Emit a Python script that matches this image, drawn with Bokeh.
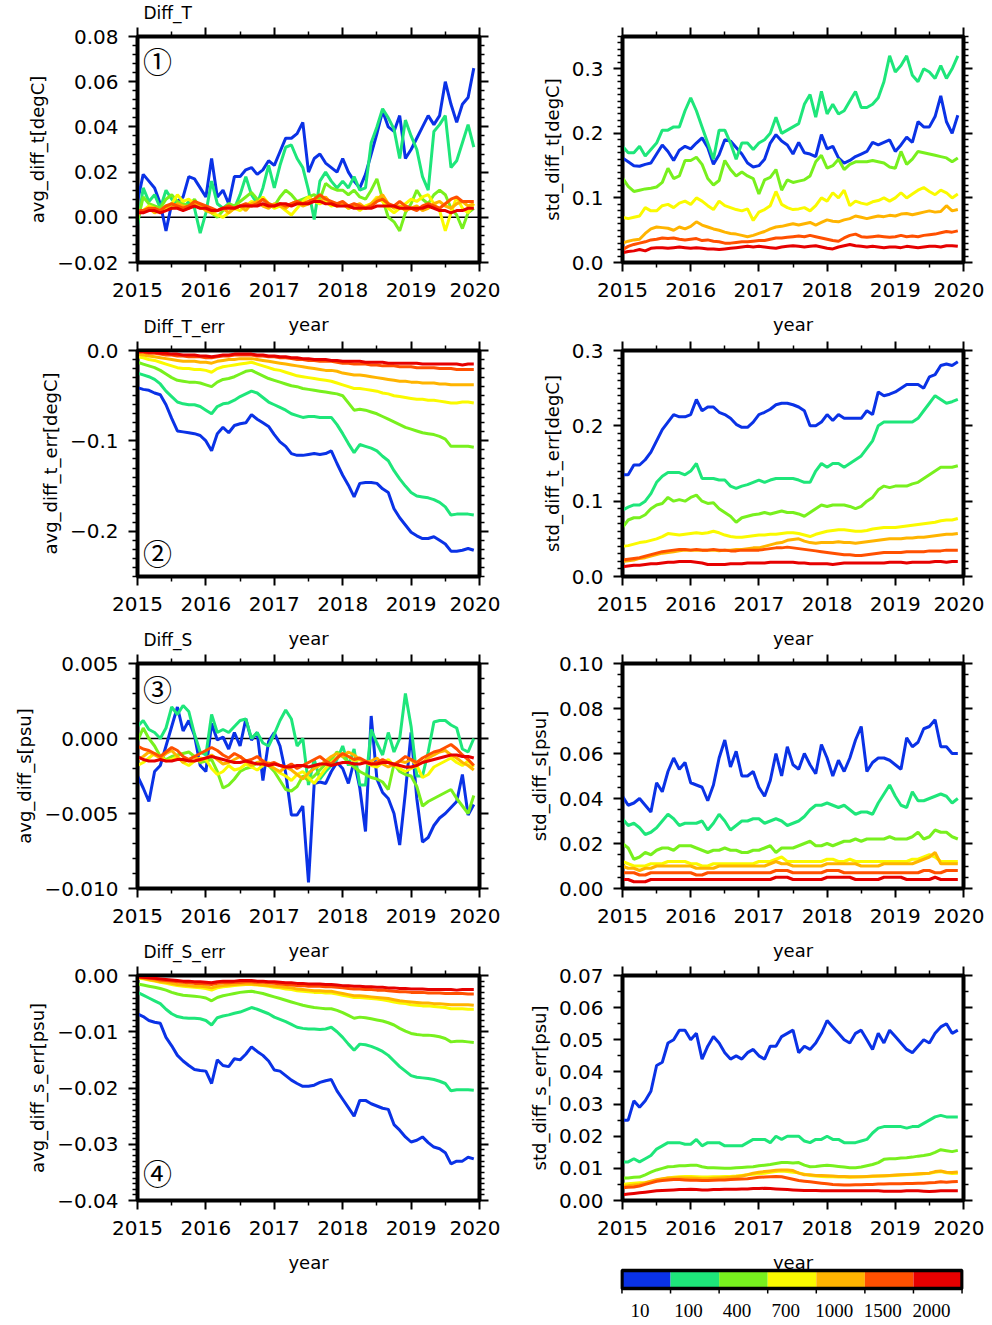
from bokeh.plotting import figure
from bokeh.layouts import column, row
from bokeh.models import (Range1d, FixedTicker, LinearAxis, CustomJSTickFormatter, Label, Span,
                          Title, CustomLabelingPolicy)
from bokeh.core.properties import value
from bokeh.embed import file_html
from bokeh.resources import INLINE

# ---------------- categories / legend ----------------
depth_labels = ["10", "100", "400", "700", "1000", "1500", "2000"]
line_colors = ["#0a32e6", "#1ee67a", "#78f01e", "#fafa00", "#ffb400", "#ff5000", "#e60000"]
months = [2015 + m / 12.0 for m in range(60)]
year_ticks = [2015, 2016, 2017, 2018, 2019, 2020]
half_year_ticks = [2015.5, 2016.5, 2017.5, 2018.5, 2019.5]

# ---------------- panel 1: avg_diff_t ----------------
avg_t_10 = [0.007,0.019,0.016,0.013,0.006,-0.006,0.006,0.007,0.009,0.018,
            0.017,0.013,0.009,0.026,0.009,0.012,0.006,0.018,0.018,0.021,
            0.022,0.019,0.021,0.025,0.023,0.029,0.035,0.035,0.037,0.042,
            0.020,0.026,0.028,0.024,0.022,0.020,0.026,0.020,0.016,0.013,
            0.019,0.028,0.037,0.047,0.040,0.038,0.045,0.026,0.030,0.035,
            0.040,0.045,0.041,0.045,0.060,0.050,0.042,0.050,0.053,0.066]
avg_t_100 = [-0.004,0.013,0.007,0.010,0.004,0.012,0.008,0.006,0.004,0.007,
             0.004,-0.007,0.002,0.016,0.006,0.004,0.006,0.004,0.010,0.018,
             0.010,0.006,0.013,0.023,0.013,0.023,0.031,0.032,0.026,0.022,
             0.012,-0.001,0.016,0.020,0.016,0.013,0.016,0.013,0.018,0.012,
             0.013,0.033,0.040,0.048,0.044,0.039,0.026,0.043,0.036,0.030,
             0.018,0.012,0.038,0.041,0.045,0.022,0.025,0.033,0.041,0.031]
avg_t_400 = [-0.002,0.009,0.006,0.005,0.004,0.008,0.010,0.007,0.006,0.005,
             0.008,0.004,0.004,0.002,0.000,0.003,0.006,0.005,0.007,0.009,
             0.011,0.008,0.008,0.006,0.005,0.009,0.012,0.010,0.007,0.008,
             0.009,0.010,0.008,0.015,0.013,0.012,0.012,0.010,0.012,0.009,
             0.008,0.012,0.017,0.008,0.000,-0.002,-0.006,0.002,0.006,0.012,
             0.008,0.006,0.010,0.012,0.010,0.004,0.001,-0.005,0.002,0.004]
avg_t_700 = [0.002,0.003,0.005,0.004,0.003,0.004,0.006,0.010,0.007,0.008,
             0.006,0.005,0.004,0.002,0.001,0.000,0.002,0.004,0.003,0.005,
             0.007,0.006,0.009,0.006,0.004,0.005,0.003,0.001,0.004,0.007,
             0.009,0.007,0.006,0.007,0.005,0.006,0.006,0.004,0.005,0.003,
             0.005,0.006,0.009,0.007,0.004,0.002,0.004,0.006,0.008,0.007,
             0.009,0.010,0.006,0.003,-0.006,0.002,0.009,0.004,0.002,0.006]
avg_t_1000 = [0.001,0.003,0.004,0.002,0.003,0.005,0.004,0.006,0.005,0.004,
              0.006,0.005,0.003,0.002,0.003,0.004,0.002,0.004,0.005,0.003,
              0.006,0.007,0.005,0.004,0.006,0.005,0.004,0.006,0.007,0.005,
              0.006,0.008,0.007,0.009,0.006,0.005,0.006,0.004,0.005,0.006,
              0.004,0.006,0.008,0.010,0.006,0.004,0.005,0.003,0.004,0.005,
              0.003,0.004,0.006,0.007,0.005,0.004,0.006,0.007,0.005,0.006]
avg_t_1500 = [0.003,0.003,0.004,0.004,0.003,0.005,0.006,0.005,0.004,0.005,
              0.007,0.006,0.005,0.004,0.003,0.004,0.005,0.004,0.005,0.006,
              0.005,0.006,0.008,0.006,0.005,0.006,0.005,0.006,0.007,0.006,
              0.007,0.008,0.010,0.008,0.007,0.006,0.007,0.005,0.006,0.005,
              0.004,0.005,0.007,0.008,0.006,0.005,0.007,0.005,0.004,0.003,
              0.005,0.006,0.005,0.004,0.006,0.008,0.009,0.007,0.007,0.007]
avg_t_2000 = [0.002,0.002,0.003,0.003,0.002,0.003,0.004,0.004,0.003,0.004,
              0.005,0.004,0.004,0.003,0.003,0.004,0.004,0.004,0.005,0.005,
              0.005,0.005,0.006,0.005,0.005,0.006,0.006,0.005,0.006,0.006,
              0.006,0.007,0.007,0.006,0.006,0.005,0.005,0.005,0.004,0.004,
              0.004,0.004,0.005,0.005,0.005,0.005,0.004,0.004,0.004,0.004,
              0.004,0.005,0.004,0.003,0.003,0.002,0.003,0.003,0.004,0.004]

# ---------------- panel 2: avg_diff_t_err ----------------
avg_te_10 = [-0.041,-0.043,-0.044,-0.047,-0.049,-0.060,-0.075,-0.089,-0.090,-0.091,
             -0.092,-0.094,-0.100,-0.111,-0.092,-0.085,-0.091,-0.083,-0.081,-0.080,
             -0.071,-0.076,-0.080,-0.084,-0.093,-0.101,-0.106,-0.114,-0.116,-0.116,
             -0.115,-0.114,-0.115,-0.114,-0.111,-0.125,-0.138,-0.149,-0.162,-0.147,
             -0.146,-0.146,-0.147,-0.153,-0.157,-0.175,-0.185,-0.193,-0.201,-0.205,
             -0.208,-0.208,-0.206,-0.210,-0.214,-0.222,-0.222,-0.221,-0.219,-0.221]
avg_te_100 = [-0.025,-0.027,-0.029,-0.032,-0.037,-0.045,-0.051,-0.057,-0.059,-0.060,
              -0.060,-0.062,-0.066,-0.070,-0.062,-0.059,-0.058,-0.055,-0.051,-0.048,
              -0.045,-0.047,-0.052,-0.057,-0.060,-0.063,-0.066,-0.070,-0.072,-0.074,
              -0.073,-0.073,-0.074,-0.074,-0.074,-0.082,-0.092,-0.103,-0.113,-0.104,
              -0.106,-0.108,-0.111,-0.117,-0.122,-0.133,-0.142,-0.150,-0.157,-0.161,
              -0.162,-0.163,-0.165,-0.168,-0.173,-0.182,-0.181,-0.181,-0.181,-0.182]
avg_te_400 = [-0.013,-0.015,-0.017,-0.019,-0.022,-0.026,-0.030,-0.033,-0.034,-0.035,
              -0.035,-0.036,-0.038,-0.040,-0.035,-0.032,-0.031,-0.029,-0.026,-0.023,
              -0.022,-0.025,-0.028,-0.031,-0.033,-0.035,-0.037,-0.039,-0.040,-0.042,
              -0.043,-0.044,-0.045,-0.046,-0.047,-0.048,-0.050,-0.058,-0.066,-0.065,
              -0.066,-0.068,-0.070,-0.073,-0.076,-0.079,-0.082,-0.085,-0.087,-0.089,
              -0.091,-0.092,-0.093,-0.095,-0.098,-0.106,-0.106,-0.106,-0.106,-0.107]
avg_te_700 = [-0.007,-0.008,-0.010,-0.011,-0.013,-0.015,-0.017,-0.019,-0.020,-0.020,
              -0.021,-0.021,-0.022,-0.024,-0.020,-0.018,-0.017,-0.016,-0.015,-0.014,
              -0.013,-0.015,-0.017,-0.019,-0.021,-0.022,-0.024,-0.026,-0.028,-0.029,
              -0.030,-0.031,-0.032,-0.033,-0.034,-0.036,-0.038,-0.040,-0.042,-0.042,
              -0.043,-0.044,-0.045,-0.047,-0.048,-0.050,-0.051,-0.052,-0.053,-0.054,
              -0.054,-0.055,-0.055,-0.056,-0.057,-0.058,-0.058,-0.057,-0.057,-0.058]
avg_te_1000 = [-0.004,-0.005,-0.006,-0.007,-0.008,-0.009,-0.010,-0.011,-0.012,-0.012,
               -0.012,-0.013,-0.013,-0.014,-0.012,-0.011,-0.010,-0.010,-0.009,-0.009,
               -0.009,-0.010,-0.011,-0.012,-0.013,-0.014,-0.015,-0.016,-0.017,-0.018,
               -0.019,-0.020,-0.021,-0.022,-0.022,-0.023,-0.025,-0.026,-0.027,-0.027,
               -0.028,-0.029,-0.030,-0.031,-0.032,-0.033,-0.034,-0.034,-0.035,-0.035,
               -0.036,-0.036,-0.036,-0.037,-0.037,-0.038,-0.038,-0.038,-0.038,-0.038]
avg_te_1500 = [-0.002,-0.002,-0.003,-0.003,-0.004,-0.005,-0.005,-0.006,-0.006,-0.007,
               -0.007,-0.007,-0.008,-0.008,-0.007,-0.006,-0.006,-0.005,-0.005,-0.005,
               -0.005,-0.006,-0.006,-0.007,-0.007,-0.008,-0.008,-0.009,-0.010,-0.010,
               -0.011,-0.011,-0.012,-0.012,-0.012,-0.013,-0.014,-0.014,-0.015,-0.015,
               -0.015,-0.016,-0.016,-0.017,-0.017,-0.017,-0.018,-0.018,-0.018,-0.019,
               -0.019,-0.019,-0.019,-0.020,-0.020,-0.020,-0.021,-0.021,-0.021,-0.021]
avg_te_2000 = [-0.001,-0.001,-0.002,-0.002,-0.003,-0.003,-0.004,-0.004,-0.005,-0.005,
               -0.005,-0.006,-0.006,-0.007,-0.006,-0.005,-0.005,-0.004,-0.004,-0.004,
               -0.004,-0.005,-0.005,-0.006,-0.006,-0.007,-0.007,-0.008,-0.008,-0.009,
               -0.009,-0.010,-0.010,-0.010,-0.011,-0.011,-0.012,-0.012,-0.012,-0.012,
               -0.013,-0.013,-0.013,-0.013,-0.014,-0.014,-0.014,-0.014,-0.014,-0.014,
               -0.015,-0.015,-0.015,-0.015,-0.015,-0.015,-0.015,-0.016,-0.015,-0.015]

# ---------------- panel 3: avg_diff_s ----------------
avg_s_10 = [-0.0025,-0.0033,-0.0042,-0.0022,-0.0018,-0.0005,0.0008,0.0021,0.0005,0.0012,
            0.0002,-0.0018,-0.0022,0.0010,-0.0001,0.0001,-0.0007,0.0004,-0.0005,0.0013,
            -0.0001,0.0004,-0.0028,-0.0002,0.0004,-0.0005,-0.0023,-0.0051,-0.0051,-0.0045,
            -0.0096,-0.0030,-0.0029,-0.0030,-0.0022,-0.0016,-0.0020,-0.0030,-0.0015,-0.0033,
            -0.0062,0.0015,-0.0027,-0.0036,-0.0040,-0.0050,-0.0071,-0.0036,0.0004,-0.0040,
            -0.0069,-0.0066,-0.0058,-0.0053,-0.0050,-0.0046,-0.0042,-0.0024,-0.0051,-0.0044]
avg_s_100 = [0.0008,0.0012,0.0006,0.0004,0.0000,0.0007,0.0021,0.0016,0.0022,0.0018,
             0.0003,-0.0009,-0.0011,0.0016,0.0004,0.0006,0.0004,0.0008,0.0012,0.0013,
             0.0000,0.0004,-0.0003,-0.0005,0.0003,0.0012,0.0019,0.0013,-0.0005,0.0000,
             -0.0031,-0.0014,-0.0027,-0.0022,-0.0018,-0.0014,-0.0005,-0.0018,-0.0007,-0.0031,
             -0.0031,0.0006,-0.0003,-0.0011,0.0004,-0.0009,0.0000,0.0030,0.0008,-0.0025,
             -0.0025,-0.0009,0.0011,0.0012,0.0012,0.0009,0.0007,-0.0007,-0.0009,0.0000]
avg_s_400 = [-0.0002,0.0007,0.0000,-0.0005,-0.0012,-0.0014,-0.0012,-0.0011,-0.0010,-0.0009,
             -0.0012,-0.0016,-0.0015,-0.0014,-0.0022,-0.0033,-0.0031,-0.0027,-0.0022,-0.0020,
             -0.0019,-0.0016,-0.0017,-0.0018,-0.0022,-0.0028,-0.0034,-0.0035,-0.0032,-0.0025,
             -0.0028,-0.0025,-0.0021,-0.0017,-0.0014,-0.0009,-0.0012,-0.0016,-0.0019,-0.0022,
             -0.0024,-0.0026,-0.0027,-0.0029,-0.0034,-0.0017,-0.0022,-0.0024,-0.0025,-0.0032,
             -0.0045,-0.0042,-0.0040,-0.0038,-0.0036,-0.0034,-0.0040,-0.0045,-0.0050,-0.0038]
avg_s_700 = [-0.0018,-0.0016,-0.0013,-0.0010,-0.0012,-0.0015,-0.0014,-0.0012,-0.0016,-0.0018,
             -0.0015,-0.0013,-0.0014,-0.0020,-0.0024,-0.0022,-0.0018,-0.0021,-0.0020,-0.0017,
             -0.0019,-0.0021,-0.0018,-0.0016,-0.0020,-0.0023,-0.0025,-0.0028,-0.0024,-0.0022,
             -0.0026,-0.0030,-0.0025,-0.0020,-0.0016,-0.0013,-0.0010,-0.0012,-0.0015,-0.0014,
             -0.0016,-0.0018,-0.0019,-0.0016,-0.0014,-0.0018,-0.0020,-0.0022,-0.0020,-0.0018,
             -0.0026,-0.0024,-0.0019,-0.0017,-0.0015,-0.0013,-0.0016,-0.0018,-0.0015,-0.0019]
avg_s_1000 = [-0.0014,-0.0012,-0.0009,-0.0011,-0.0013,-0.0010,-0.0008,-0.0012,-0.0016,-0.0014,
              -0.0012,-0.0015,-0.0013,-0.0011,-0.0014,-0.0017,-0.0016,-0.0014,-0.0012,-0.0015,
              -0.0018,-0.0016,-0.0015,-0.0018,-0.0020,-0.0022,-0.0019,-0.0021,-0.0024,-0.0027,
              -0.0023,-0.0020,-0.0018,-0.0015,-0.0012,-0.0010,-0.0012,-0.0009,-0.0011,-0.0014,
              -0.0016,-0.0015,-0.0013,-0.0017,-0.0019,-0.0017,-0.0015,-0.0016,-0.0014,-0.0018,
              -0.0016,-0.0013,-0.0011,-0.0009,-0.0008,-0.0011,-0.0013,-0.0016,-0.0018,-0.0021]
avg_s_1500 = [-0.0005,-0.0007,-0.0008,-0.0010,-0.0012,-0.0009,-0.0006,-0.0008,-0.0012,-0.0014,
              -0.0012,-0.0010,-0.0008,-0.0006,-0.0008,-0.0011,-0.0013,-0.0010,-0.0012,-0.0015,
              -0.0014,-0.0012,-0.0015,-0.0017,-0.0016,-0.0018,-0.0019,-0.0017,-0.0020,-0.0018,
              -0.0016,-0.0014,-0.0012,-0.0015,-0.0017,-0.0013,-0.0010,-0.0012,-0.0014,-0.0013,
              -0.0015,-0.0017,-0.0016,-0.0014,-0.0016,-0.0018,-0.0015,-0.0012,-0.0014,-0.0016,
              -0.0013,-0.0011,-0.0009,-0.0008,-0.0006,-0.0004,-0.0007,-0.0011,-0.0014,-0.0018]
avg_s_2000 = [-0.0012,-0.0014,-0.0015,-0.0015,-0.0014,-0.0015,-0.0015,-0.0014,-0.0014,-0.0015,
              -0.0015,-0.0014,-0.0013,-0.0012,-0.0013,-0.0014,-0.0015,-0.0016,-0.0016,-0.0015,
              -0.0016,-0.0017,-0.0017,-0.0018,-0.0017,-0.0018,-0.0019,-0.0019,-0.0018,-0.0018,
              -0.0019,-0.0018,-0.0017,-0.0017,-0.0018,-0.0017,-0.0016,-0.0016,-0.0017,-0.0017,
              -0.0016,-0.0017,-0.0017,-0.0016,-0.0016,-0.0017,-0.0018,-0.0019,-0.0019,-0.0018,
              -0.0016,-0.0015,-0.0014,-0.0013,-0.0012,-0.0011,-0.0011,-0.0012,-0.0012,-0.0013]

# ---------------- panel 4: avg_diff_s_err ----------------
avg_se_10 = [-0.0068,-0.0073,-0.0080,-0.0083,-0.0085,-0.0110,-0.0125,-0.0142,-0.0152,-0.0160,
             -0.0167,-0.0169,-0.0170,-0.0192,-0.0150,-0.0160,-0.0162,-0.0148,-0.0150,-0.0140,
             -0.0127,-0.0135,-0.0142,-0.0152,-0.0168,-0.0170,-0.0178,-0.0186,-0.0192,-0.0197,
             -0.0197,-0.0195,-0.0190,-0.0187,-0.0185,-0.0205,-0.0220,-0.0235,-0.0250,-0.0222,
             -0.0222,-0.0228,-0.0232,-0.0236,-0.0238,-0.0265,-0.0275,-0.0287,-0.0296,-0.0293,
             -0.0287,-0.0297,-0.0305,-0.0308,-0.0315,-0.0335,-0.0330,-0.0330,-0.0323,-0.0326]
avg_se_100 = [-0.0030,-0.0035,-0.0040,-0.0045,-0.0050,-0.0060,-0.0068,-0.0073,-0.0075,-0.0076,
              -0.0076,-0.0077,-0.0080,-0.0088,-0.0075,-0.0072,-0.0070,-0.0067,-0.0065,-0.0061,
              -0.0057,-0.0060,-0.0064,-0.0068,-0.0074,-0.0078,-0.0082,-0.0087,-0.0092,-0.0094,
              -0.0095,-0.0095,-0.0096,-0.0095,-0.0092,-0.0100,-0.0110,-0.0122,-0.0133,-0.0122,
              -0.0123,-0.0126,-0.0130,-0.0135,-0.0142,-0.0152,-0.0162,-0.0170,-0.0178,-0.0181,
              -0.0182,-0.0183,-0.0185,-0.0188,-0.0192,-0.0205,-0.0203,-0.0203,-0.0203,-0.0204]
avg_se_400 = [-0.0015,-0.0017,-0.0019,-0.0021,-0.0023,-0.0026,-0.0030,-0.0033,-0.0035,-0.0036,
              -0.0037,-0.0038,-0.0040,-0.0045,-0.0039,-0.0036,-0.0034,-0.0032,-0.0030,-0.0029,
              -0.0028,-0.0030,-0.0032,-0.0035,-0.0038,-0.0041,-0.0044,-0.0047,-0.0050,-0.0053,
              -0.0055,-0.0057,-0.0058,-0.0059,-0.0059,-0.0062,-0.0066,-0.0071,-0.0076,-0.0074,
              -0.0075,-0.0077,-0.0079,-0.0081,-0.0084,-0.0088,-0.0094,-0.0099,-0.0103,-0.0105,
              -0.0106,-0.0106,-0.0107,-0.0109,-0.0112,-0.0118,-0.0117,-0.0117,-0.0118,-0.0119]
avg_se_700 = [-0.0005,-0.0006,-0.0008,-0.0010,-0.0012,-0.0014,-0.0016,-0.0018,-0.0019,-0.0020,
              -0.0021,-0.0022,-0.0023,-0.0026,-0.0022,-0.0020,-0.0019,-0.0018,-0.0017,-0.0016,
              -0.0016,-0.0017,-0.0018,-0.0019,-0.0021,-0.0022,-0.0024,-0.0025,-0.0027,-0.0028,
              -0.0029,-0.0030,-0.0030,-0.0031,-0.0031,-0.0033,-0.0035,-0.0037,-0.0039,-0.0039,
              -0.0040,-0.0041,-0.0042,-0.0043,-0.0045,-0.0047,-0.0049,-0.0050,-0.0052,-0.0053,
              -0.0054,-0.0054,-0.0055,-0.0056,-0.0057,-0.0059,-0.0059,-0.0059,-0.0060,-0.0060]
avg_se_1000 = [-0.0004,-0.0005,-0.0007,-0.0009,-0.0011,-0.0012,-0.0014,-0.0016,-0.0017,-0.0018,
               -0.0019,-0.0019,-0.0020,-0.0022,-0.0019,-0.0018,-0.0017,-0.0016,-0.0015,-0.0015,
               -0.0015,-0.0016,-0.0017,-0.0018,-0.0019,-0.0020,-0.0021,-0.0022,-0.0024,-0.0025,
               -0.0026,-0.0027,-0.0027,-0.0028,-0.0028,-0.0030,-0.0032,-0.0034,-0.0036,-0.0036,
               -0.0037,-0.0038,-0.0039,-0.0040,-0.0041,-0.0043,-0.0045,-0.0046,-0.0047,-0.0048,
               -0.0049,-0.0049,-0.0050,-0.0050,-0.0051,-0.0052,-0.0052,-0.0052,-0.0052,-0.0053]
avg_se_1500 = [-0.0003,-0.0004,-0.0005,-0.0006,-0.0008,-0.0009,-0.0010,-0.0011,-0.0012,-0.0013,
               -0.0014,-0.0014,-0.0015,-0.0016,-0.0014,-0.0013,-0.0013,-0.0012,-0.0012,-0.0011,
               -0.0011,-0.0012,-0.0012,-0.0013,-0.0014,-0.0015,-0.0016,-0.0017,-0.0018,-0.0018,
               -0.0019,-0.0019,-0.0019,-0.0020,-0.0020,-0.0021,-0.0022,-0.0023,-0.0024,-0.0024,
               -0.0025,-0.0025,-0.0026,-0.0026,-0.0027,-0.0028,-0.0029,-0.0029,-0.0030,-0.0030,
               -0.0030,-0.0031,-0.0031,-0.0031,-0.0032,-0.0032,-0.0032,-0.0032,-0.0033,-0.0033]
avg_se_2000 = [-0.0002,-0.0003,-0.0004,-0.0005,-0.0006,-0.0007,-0.0008,-0.0009,-0.0010,-0.0010,
               -0.0011,-0.0011,-0.0012,-0.0013,-0.0011,-0.0010,-0.0010,-0.0010,-0.0009,-0.0009,
               -0.0009,-0.0010,-0.0010,-0.0011,-0.0011,-0.0012,-0.0013,-0.0013,-0.0014,-0.0014,
               -0.0015,-0.0015,-0.0015,-0.0016,-0.0016,-0.0017,-0.0018,-0.0018,-0.0019,-0.0019,
               -0.0020,-0.0020,-0.0021,-0.0021,-0.0022,-0.0022,-0.0023,-0.0023,-0.0024,-0.0024,
               -0.0024,-0.0025,-0.0025,-0.0025,-0.0025,-0.0025,-0.0026,-0.0025,-0.0025,-0.0025]

# ---------------- panel 5: std_diff_t ----------------
std_t_10 = [0.162,0.156,0.150,0.149,0.152,0.154,0.168,0.182,0.172,0.158,
            0.174,0.180,0.176,0.185,0.193,0.178,0.152,0.167,0.190,0.188,
            0.178,0.168,0.154,0.148,0.150,0.160,0.185,0.198,0.188,0.182,
            0.168,0.186,0.170,0.168,0.164,0.198,0.176,0.180,0.162,0.154,
            0.158,0.164,0.168,0.172,0.186,0.182,0.186,0.190,0.172,0.182,
            0.194,0.186,0.218,0.210,0.210,0.226,0.258,0.218,0.200,0.228]
std_t_100 = [0.180,0.170,0.170,0.180,0.165,0.175,0.185,0.205,0.205,0.210,
             0.210,0.235,0.255,0.235,0.210,0.185,0.160,0.205,0.205,0.185,
             0.160,0.185,0.185,0.175,0.185,0.190,0.200,0.225,0.200,0.205,
             0.210,0.215,0.245,0.260,0.225,0.265,0.230,0.245,0.230,0.235,
             0.250,0.265,0.240,0.240,0.245,0.255,0.280,0.320,0.295,0.305,
             0.320,0.290,0.280,0.300,0.295,0.285,0.305,0.285,0.300,0.320]
std_t_400 = [0.131,0.118,0.110,0.112,0.114,0.115,0.117,0.124,0.146,0.130,
             0.134,0.158,0.158,0.163,0.152,0.130,0.120,0.127,0.158,0.144,
             0.134,0.140,0.134,0.130,0.106,0.128,0.132,0.144,0.112,0.128,
             0.124,0.126,0.128,0.134,0.156,0.166,0.146,0.150,0.160,0.144,
             0.152,0.156,0.156,0.156,0.158,0.156,0.154,0.148,0.146,0.172,
             0.152,0.160,0.172,0.170,0.168,0.166,0.164,0.162,0.156,0.162]
std_t_700 = [0.070,0.068,0.070,0.072,0.085,0.080,0.080,0.088,0.090,0.085,
             0.092,0.095,0.090,0.100,0.095,0.088,0.082,0.095,0.088,0.085,
             0.082,0.080,0.083,0.065,0.078,0.082,0.088,0.110,0.090,0.085,
             0.082,0.083,0.085,0.080,0.088,0.100,0.095,0.108,0.100,0.112,
             0.088,0.095,0.092,0.090,0.094,0.096,0.100,0.095,0.100,0.108,
             0.100,0.106,0.112,0.116,0.110,0.105,0.112,0.108,0.100,0.106]
std_t_1000 = [0.030,0.033,0.035,0.036,0.045,0.052,0.055,0.054,0.053,0.050,
              0.055,0.052,0.056,0.063,0.058,0.055,0.052,0.050,0.047,0.045,
              0.044,0.042,0.040,0.042,0.045,0.048,0.052,0.055,0.056,0.058,
              0.060,0.058,0.060,0.062,0.058,0.062,0.066,0.064,0.063,0.066,
              0.068,0.072,0.070,0.068,0.070,0.072,0.071,0.073,0.072,0.075,
              0.076,0.074,0.076,0.078,0.080,0.078,0.079,0.088,0.080,0.082]
std_t_1500 = [0.020,0.025,0.028,0.030,0.032,0.035,0.036,0.038,0.037,0.038,
              0.036,0.035,0.036,0.037,0.034,0.035,0.033,0.032,0.030,0.030,
              0.031,0.032,0.032,0.033,0.034,0.034,0.036,0.038,0.038,0.039,
              0.040,0.041,0.040,0.042,0.040,0.038,0.036,0.034,0.033,0.038,
              0.042,0.044,0.040,0.039,0.040,0.041,0.040,0.039,0.040,0.042,
              0.040,0.041,0.040,0.042,0.043,0.044,0.046,0.048,0.047,0.049]
std_t_2000 = [0.015,0.017,0.018,0.020,0.018,0.022,0.023,0.023,0.022,0.023,
              0.024,0.023,0.022,0.023,0.022,0.021,0.021,0.020,0.021,0.022,
              0.023,0.024,0.025,0.024,0.025,0.024,0.023,0.022,0.024,0.025,
              0.026,0.025,0.024,0.025,0.026,0.024,0.022,0.021,0.024,0.026,
              0.028,0.026,0.025,0.024,0.025,0.024,0.023,0.024,0.024,0.023,
              0.025,0.024,0.023,0.024,0.025,0.025,0.024,0.026,0.026,0.025]

# ---------------- panel 6: std_diff_t_err ----------------
std_te_10 = [0.135,0.135,0.148,0.148,0.155,0.165,0.180,0.195,0.205,0.215,
             0.212,0.212,0.215,0.235,0.220,0.225,0.225,0.218,0.215,0.210,
             0.202,0.198,0.198,0.205,0.215,0.218,0.222,0.228,0.230,0.230,
             0.228,0.225,0.220,0.200,0.200,0.205,0.215,0.207,0.215,0.210,
             0.210,0.210,0.210,0.220,0.215,0.245,0.240,0.242,0.245,0.250,
             0.255,0.255,0.255,0.250,0.265,0.268,0.280,0.282,0.280,0.285]
std_te_100 = [0.088,0.092,0.095,0.095,0.100,0.110,0.125,0.133,0.138,0.138,
              0.138,0.135,0.140,0.150,0.130,0.130,0.130,0.128,0.128,0.120,
              0.117,0.120,0.122,0.125,0.128,0.125,0.128,0.130,0.130,0.130,
              0.130,0.128,0.125,0.125,0.140,0.150,0.145,0.150,0.150,0.145,
              0.150,0.155,0.160,0.170,0.180,0.200,0.205,0.205,0.205,0.205,
              0.205,0.205,0.210,0.220,0.230,0.240,0.235,0.230,0.232,0.235]
std_te_400 = [0.065,0.075,0.078,0.078,0.082,0.090,0.095,0.097,0.105,0.100,
              0.102,0.100,0.105,0.108,0.100,0.097,0.098,0.090,0.085,0.080,
              0.072,0.078,0.080,0.082,0.083,0.085,0.083,0.085,0.087,0.085,
              0.085,0.083,0.080,0.085,0.090,0.095,0.093,0.095,0.095,0.095,
              0.093,0.090,0.093,0.100,0.105,0.115,0.120,0.118,0.120,0.120,
              0.120,0.123,0.125,0.130,0.135,0.140,0.145,0.145,0.145,0.147]
std_te_700 = [0.040,0.041,0.043,0.045,0.046,0.048,0.050,0.053,0.057,0.056,
              0.055,0.056,0.057,0.058,0.057,0.058,0.060,0.058,0.055,0.053,
              0.052,0.052,0.053,0.054,0.055,0.055,0.056,0.056,0.057,0.058,
              0.058,0.057,0.055,0.053,0.056,0.058,0.060,0.061,0.062,0.062,
              0.061,0.060,0.060,0.061,0.063,0.064,0.065,0.065,0.065,0.066,
              0.067,0.068,0.069,0.070,0.071,0.072,0.074,0.075,0.075,0.077]
std_te_1000 = [0.020,0.021,0.022,0.024,0.025,0.027,0.029,0.031,0.032,0.033,
               0.034,0.035,0.035,0.035,0.035,0.035,0.035,0.034,0.035,0.035,
               0.036,0.036,0.037,0.038,0.038,0.040,0.042,0.044,0.045,0.048,
               0.049,0.050,0.047,0.045,0.044,0.045,0.045,0.045,0.046,0.045,
               0.045,0.044,0.045,0.046,0.047,0.048,0.049,0.050,0.050,0.050,
               0.051,0.051,0.052,0.052,0.053,0.054,0.055,0.056,0.056,0.057]
std_te_1500 = [0.022,0.023,0.024,0.025,0.027,0.029,0.031,0.033,0.034,0.035,
               0.036,0.036,0.035,0.036,0.035,0.035,0.036,0.035,0.035,0.034,
               0.034,0.035,0.035,0.035,0.035,0.036,0.037,0.038,0.038,0.039,
               0.038,0.037,0.036,0.035,0.034,0.033,0.032,0.031,0.030,0.029,
               0.029,0.028,0.028,0.029,0.030,0.031,0.032,0.032,0.032,0.032,
               0.033,0.033,0.033,0.033,0.034,0.034,0.034,0.035,0.035,0.035]
std_te_2000 = [0.013,0.014,0.015,0.015,0.016,0.017,0.017,0.018,0.019,0.019,
               0.020,0.020,0.020,0.019,0.018,0.016,0.016,0.016,0.016,0.017,
               0.017,0.017,0.018,0.018,0.018,0.018,0.019,0.019,0.019,0.019,
               0.019,0.018,0.018,0.017,0.017,0.017,0.017,0.016,0.017,0.018,
               0.018,0.018,0.018,0.018,0.018,0.018,0.018,0.019,0.019,0.019,
               0.018,0.019,0.019,0.019,0.019,0.020,0.020,0.019,0.020,0.020]

# ---------------- panel 7: std_diff_s ----------------
std_s_10 = [0.041,0.037,0.038,0.040,0.037,0.034,0.047,0.043,0.052,0.058,
            0.053,0.056,0.047,0.046,0.045,0.039,0.046,0.058,0.066,0.054,
            0.061,0.050,0.050,0.052,0.045,0.041,0.048,0.060,0.050,0.063,
            0.055,0.053,0.060,0.055,0.051,0.064,0.058,0.050,0.057,0.052,
            0.058,0.066,0.072,0.052,0.056,0.058,0.058,0.057,0.055,0.053,
            0.067,0.063,0.065,0.071,0.072,0.075,0.063,0.063,0.060,0.060]
std_s_100 = [0.031,0.028,0.029,0.027,0.024,0.025,0.027,0.030,0.033,0.031,
             0.028,0.029,0.029,0.029,0.030,0.026,0.029,0.033,0.030,0.026,
             0.028,0.030,0.030,0.031,0.031,0.029,0.030,0.031,0.030,0.028,
             0.029,0.030,0.032,0.035,0.037,0.037,0.038,0.037,0.036,0.037,
             0.035,0.033,0.034,0.034,0.033,0.038,0.042,0.046,0.041,0.037,
             0.036,0.043,0.039,0.039,0.040,0.041,0.042,0.041,0.038,0.040]
std_s_400 = [0.020,0.018,0.013,0.014,0.016,0.015,0.017,0.018,0.018,0.017,
             0.019,0.019,0.019,0.018,0.017,0.016,0.017,0.017,0.018,0.017,
             0.017,0.016,0.016,0.017,0.017,0.018,0.019,0.016,0.018,0.018,
             0.018,0.019,0.020,0.021,0.019,0.019,0.020,0.019,0.020,0.021,
             0.021,0.022,0.021,0.022,0.022,0.022,0.022,0.023,0.022,0.022,
             0.022,0.023,0.025,0.022,0.023,0.026,0.025,0.025,0.023,0.022]
std_s_700 = [0.012,0.011,0.010,0.010,0.010,0.011,0.011,0.011,0.012,0.012,
             0.012,0.012,0.011,0.011,0.010,0.010,0.011,0.011,0.011,0.011,
             0.011,0.011,0.011,0.011,0.012,0.012,0.012,0.013,0.014,0.012,
             0.012,0.012,0.012,0.012,0.012,0.012,0.013,0.013,0.012,0.012,
             0.013,0.012,0.012,0.012,0.012,0.012,0.012,0.012,0.012,0.012,
             0.012,0.013,0.013,0.014,0.015,0.014,0.012,0.012,0.012,0.012]
std_s_1000 = [0.010,0.009,0.009,0.008,0.009,0.009,0.010,0.010,0.010,0.010,
              0.010,0.010,0.010,0.009,0.009,0.009,0.009,0.010,0.010,0.010,
              0.010,0.010,0.010,0.010,0.010,0.010,0.011,0.012,0.011,0.011,
              0.010,0.010,0.010,0.010,0.010,0.010,0.011,0.011,0.011,0.011,
              0.011,0.011,0.010,0.010,0.010,0.010,0.011,0.011,0.011,0.011,
              0.011,0.011,0.012,0.013,0.014,0.016,0.011,0.011,0.011,0.011]
std_s_1500 = [0.007,0.007,0.007,0.006,0.006,0.007,0.007,0.007,0.007,0.007,
              0.007,0.007,0.007,0.006,0.006,0.007,0.007,0.007,0.007,0.007,
              0.007,0.007,0.007,0.007,0.007,0.007,0.007,0.008,0.008,0.008,
              0.007,0.007,0.007,0.007,0.007,0.007,0.008,0.008,0.008,0.007,
              0.007,0.007,0.007,0.007,0.007,0.007,0.007,0.007,0.007,0.007,
              0.007,0.007,0.007,0.008,0.008,0.007,0.007,0.008,0.008,0.008]
std_s_2000 = [0.004,0.004,0.003,0.003,0.003,0.004,0.004,0.004,0.004,0.004,
              0.004,0.004,0.004,0.004,0.004,0.004,0.004,0.004,0.004,0.004,
              0.004,0.004,0.004,0.004,0.004,0.004,0.004,0.005,0.005,0.005,
              0.004,0.004,0.004,0.004,0.004,0.004,0.005,0.005,0.005,0.005,
              0.005,0.004,0.004,0.004,0.004,0.004,0.005,0.005,0.005,0.005,
              0.004,0.004,0.004,0.004,0.004,0.005,0.004,0.004,0.004,0.004]

# ---------------- panel 8: std_diff_s_err ----------------
std_se_10 = [0.025,0.025,0.031,0.029,0.031,0.034,0.042,0.043,0.049,0.050,
             0.053,0.053,0.050,0.052,0.044,0.048,0.051,0.049,0.046,0.044,
             0.045,0.044,0.046,0.047,0.045,0.044,0.048,0.048,0.051,0.052,
             0.053,0.046,0.048,0.047,0.049,0.052,0.056,0.054,0.052,0.050,
             0.049,0.052,0.053,0.050,0.047,0.052,0.049,0.053,0.051,0.049,
             0.047,0.046,0.048,0.050,0.049,0.052,0.054,0.055,0.052,0.053]
std_se_100 = [0.012,0.012,0.013,0.012,0.013,0.014,0.016,0.017,0.018,0.018,
              0.018,0.0175,0.0175,0.019,0.017,0.018,0.018,0.018,0.017,0.017,
              0.017,0.017,0.018,0.019,0.019,0.019,0.018,0.020,0.019,0.020,
              0.020,0.020,0.0185,0.018,0.019,0.019,0.020,0.019,0.019,0.018,
              0.018,0.018,0.0185,0.019,0.021,0.0225,0.023,0.023,0.023,0.023,
              0.0225,0.023,0.023,0.024,0.025,0.026,0.0265,0.026,0.026,0.026]
std_se_400 = [0.0070,0.0070,0.0072,0.0073,0.0080,0.0088,0.0095,0.0100,0.0105,0.0106,
              0.0108,0.0108,0.0110,0.0110,0.0105,0.0102,0.0102,0.0101,0.0100,0.0100,
              0.0102,0.0103,0.0104,0.0105,0.0108,0.0110,0.0112,0.0115,0.0118,0.0118,
              0.0117,0.0118,0.0110,0.0105,0.0106,0.0108,0.0110,0.0108,0.0106,0.0104,
              0.0102,0.0102,0.0104,0.0108,0.0112,0.0118,0.0128,0.0130,0.0130,0.0132,
              0.0133,0.0135,0.0138,0.0140,0.0143,0.0150,0.0158,0.0155,0.0152,0.0156]
std_se_700 = [0.0050,0.0052,0.0054,0.0055,0.0056,0.0058,0.0062,0.0066,0.0070,0.0072,
              0.0074,0.0075,0.0075,0.0074,0.0073,0.0073,0.0074,0.0074,0.0075,0.0075,
              0.0076,0.0078,0.0080,0.0082,0.0083,0.0085,0.0088,0.0090,0.0092,0.0090,
              0.0088,0.0086,0.0082,0.0078,0.0076,0.0075,0.0074,0.0074,0.0073,0.0073,
              0.0072,0.0073,0.0074,0.0074,0.0075,0.0076,0.0076,0.0077,0.0078,0.0079,
              0.0080,0.0081,0.0082,0.0083,0.0085,0.0088,0.0090,0.0086,0.0084,0.0085]
std_se_1000 = [0.0045,0.0046,0.0048,0.0050,0.0055,0.0060,0.0065,0.0068,0.0070,0.0070,
               0.0071,0.0070,0.0070,0.0069,0.0068,0.0068,0.0069,0.0070,0.0071,0.0072,
               0.0074,0.0076,0.0080,0.0085,0.0088,0.0090,0.0092,0.0094,0.0095,0.0095,
               0.0093,0.0085,0.0080,0.0080,0.0078,0.0078,0.0077,0.0076,0.0075,0.0075,
               0.0074,0.0074,0.0074,0.0075,0.0076,0.0076,0.0077,0.0078,0.0079,0.0080,
               0.0081,0.0082,0.0083,0.0084,0.0085,0.0090,0.0092,0.0088,0.0087,0.0089]
std_se_1500 = [0.0040,0.0041,0.0042,0.0045,0.0050,0.0055,0.0060,0.0062,0.0064,0.0065,
               0.0065,0.0064,0.0063,0.0063,0.0062,0.0062,0.0063,0.0064,0.0064,0.0065,
               0.0066,0.0067,0.0068,0.0070,0.0072,0.0073,0.0074,0.0075,0.0074,0.0070,
               0.0066,0.0062,0.0060,0.0058,0.0056,0.0054,0.0052,0.0050,0.0049,0.0048,
               0.0048,0.0049,0.0049,0.0050,0.0050,0.0051,0.0051,0.0052,0.0052,0.0052,
               0.0053,0.0053,0.0054,0.0054,0.0055,0.0056,0.0058,0.0057,0.0058,0.0059]
std_se_2000 = [0.0018,0.0020,0.0022,0.0024,0.0026,0.0028,0.0030,0.0031,0.0032,0.0033,
               0.0034,0.0034,0.0035,0.0034,0.0033,0.0033,0.0034,0.0034,0.0035,0.0035,
               0.0035,0.0036,0.0036,0.0037,0.0037,0.0038,0.0037,0.0036,0.0035,0.0034,
               0.0033,0.0032,0.0031,0.0031,0.0031,0.0030,0.0030,0.0030,0.0030,0.0030,
               0.0030,0.0030,0.0030,0.0030,0.0030,0.0030,0.0029,0.0029,0.0029,0.0029,
               0.0030,0.0030,0.0030,0.0029,0.0028,0.0029,0.0030,0.0030,0.0030,0.0030]

# ---------------- panel descriptions (axis text / ranges / ticks) ----------------
panels = [
    dict(row=0, col=0, ylabel="avg_diff_t[degC]", yr=(-0.02, 0.08),
         major=[-0.02, 0.0, 0.02, 0.04, 0.06, 0.08], minor_step=0.004, dec=2, zero=True,
         series=[avg_t_10, avg_t_100, avg_t_400, avg_t_700, avg_t_1000, avg_t_1500, avg_t_2000]),
    dict(row=0, col=1, ylabel="std_diff_t[degC]", yr=(0.0, 0.35),
         major=[0.0, 0.1, 0.2, 0.3], minor_step=0.01, dec=1, zero=False,
         series=[std_t_10, std_t_100, std_t_400, std_t_700, std_t_1000, std_t_1500, std_t_2000]),
    dict(row=1, col=0, ylabel="avg_diff_t_err[degC]", yr=(-0.25, 0.0),
         major=[-0.2, -0.1, 0.0], minor_step=0.01, dec=1, zero=False,
         series=[avg_te_10, avg_te_100, avg_te_400, avg_te_700, avg_te_1000, avg_te_1500, avg_te_2000]),
    dict(row=1, col=1, ylabel="std_diff_t_err[degC]", yr=(0.0, 0.3),
         major=[0.0, 0.1, 0.2, 0.3], minor_step=0.01, dec=1, zero=False,
         series=[std_te_10, std_te_100, std_te_400, std_te_700, std_te_1000, std_te_1500, std_te_2000]),
    dict(row=2, col=0, ylabel="avg_diff_s[psu]", yr=(-0.01, 0.005),
         major=[-0.01, -0.005, 0.0, 0.005], minor_step=0.001, dec=3, zero=True,
         series=[avg_s_10, avg_s_100, avg_s_400, avg_s_700, avg_s_1000, avg_s_1500, avg_s_2000]),
    dict(row=2, col=1, ylabel="std_diff_s[psu]", yr=(0.0, 0.1),
         major=[0.0, 0.02, 0.04, 0.06, 0.08, 0.10], minor_step=0.005, dec=2, zero=False,
         series=[std_s_10, std_s_100, std_s_400, std_s_700, std_s_1000, std_s_1500, std_s_2000]),
    dict(row=3, col=0, ylabel="avg_diff_s_err[psu]", yr=(-0.04, 0.0),
         major=[-0.04, -0.03, -0.02, -0.01, 0.0], minor_step=0.001, dec=2, zero=False,
         series=[avg_se_10, avg_se_100, avg_se_400, avg_se_700, avg_se_1000, avg_se_1500, avg_se_2000]),
    dict(row=3, col=1, ylabel="std_diff_s_err[psu]", yr=(0.0, 0.07),
         major=[0.0, 0.01, 0.02, 0.03, 0.04, 0.05, 0.06, 0.07], minor_step=0.005, dec=2, zero=False,
         series=[std_se_10, std_se_100, std_se_400, std_se_700, std_se_1000, std_se_1500, std_se_2000]),
]
panel_titles = ["Diff_T", "Diff_T_err", "Diff_S", "Diff_S_err"]
panel_numbers = ["\u2460", "\u2461", "\u2462", "\u2463"]
number_offsets = [-23, 25, -24, 29]   # px from frame top (rows 0, 2) or bottom (rows 1, 3)

# ---------------- layout geometry (pixels) ----------------
TB = 34                        # top border (title + top ticks)
BB = 80                        # bottom border (tick labels + "year")
FRAME_H = [228, 228, 227, 227]
ROW_OVERLAP = [0, 28, 29, 29]  # rows overlap so titles sit beside the "year" labels
COL_W = [500, 484]
COL_LEFT = [137, 122]

TICK_FONT = "DejaVu Sans"
MINUS = "\u2212"

NO_LABELS = "const all = Array.from(indices); for (const i of all) { indices.unset(i) } return indices"


def minor_list(lo, hi, step, majors):
    out = []
    n = int(round((hi - lo) / step))
    for k in range(n + 1):
        v = round(lo + k * step, 6)
        if all(abs(v - m) > 1e-9 for m in majors):
            out.append(v)
    return out


def style_axis(ax, show_labels):
    ax.axis_line_width = 3
    ax.axis_line_color = "black"
    ax.major_tick_out = 9
    ax.major_tick_in = 0
    ax.major_tick_line_width = 2
    ax.major_tick_line_color = "black"
    ax.minor_tick_out = 5
    ax.minor_tick_in = 0
    ax.minor_tick_line_width = 1.5
    ax.minor_tick_line_color = "black"
    if show_labels:
        ax.major_label_text_font = TICK_FONT
        ax.major_label_text_font_size = "20px"
        ax.major_label_text_color = "black"
        ax.axis_label_text_font = TICK_FONT
        ax.axis_label_text_font_size = "18px"
        ax.axis_label_text_font_style = "normal"
        ax.axis_label_text_color = "black"
    else:
        ax.major_label_policy = CustomLabelingPolicy(code=NO_LABELS)
        ax.major_label_text_font_size = "1px"
        ax.major_label_standoff = 0


def make_panel(spec):
    r, c = spec["row"], spec["col"]
    lo, hi = spec["yr"]
    p = figure(width=COL_W[c], height=TB + FRAME_H[r] + BB,
               x_range=Range1d(2015, 2020), y_range=Range1d(lo, hi),
               output_backend="svg", toolbar_location=None,
               min_border_left=COL_LEFT[c], min_border_right=21,
               min_border_top=TB, min_border_bottom=BB)
    p.xgrid.visible = False
    p.ygrid.visible = False
    p.outline_line_color = "black"
    p.outline_line_width = 4
    p.background_fill_color = "white"
    p.border_fill_color = None

    xt = FixedTicker(ticks=year_ticks, minor_ticks=half_year_ticks)
    yt = FixedTicker(ticks=spec["major"], minor_ticks=minor_list(lo, hi, spec["minor_step"], spec["major"]))
    yfmt = CustomJSTickFormatter(code="return tick.toFixed(%d).replace('-', '%s');" % (spec["dec"], MINUS))
    xfmt = CustomJSTickFormatter(code="return tick.toFixed(0);")

    xa = p.xaxis[0]
    xa.ticker = xt
    xa.formatter = xfmt
    xa.axis_label = "year"
    style_axis(xa, True)
    xa.major_label_standoff = 11
    xa.axis_label_standoff = 14

    ya = p.yaxis[0]
    ya.ticker = yt
    ya.formatter = yfmt
    ya.axis_label = spec["ylabel"]
    style_axis(ya, True)
    ya.major_label_standoff = 10
    ya.axis_label_standoff = 6

    top = LinearAxis(ticker=xt)
    style_axis(top, False)
    p.add_layout(top, "above")
    right = LinearAxis(ticker=yt)
    style_axis(right, False)
    p.add_layout(right, "right")

    if c == 0:
        p.add_layout(Title(text=panel_titles[r], align="left", offset=6, standoff=1,
                           text_font=TICK_FONT, text_font_size="17px", text_font_style="normal",
                           text_color="black"), "above")
        if r in (0, 2):
            lab = Label(x=2015, y=hi, x_offset=20, y_offset=number_offsets[r], text=panel_numbers[r])
        else:
            lab = Label(x=2015, y=lo, x_offset=20, y_offset=number_offsets[r], text=panel_numbers[r])
        lab.text_font = "Noto Sans CJK JP"
        lab.text_font_size = "29px"
        lab.text_align = "center"
        lab.text_baseline = "middle"
        lab.text_color = "black"
        p.add_layout(lab)

    if spec["zero"]:
        p.add_layout(Span(location=0, dimension="width", line_color="black",
                          line_width=1.5, level="underlay"))

    for vals, color in zip(spec["series"], line_colors):
        p.line(months[:len(vals)], vals, line_color=color, line_width=3)
    return p


figs = {}
for spec in panels:
    figs[(spec["row"], spec["col"])] = make_panel(spec)

# ---------------- colour bar ----------------
CB_H = 58
cb = figure(width=984, height=CB_H, x_range=Range1d(-0.03, 7.03), y_range=Range1d(CB_H, 0),
            output_backend="svg", toolbar_location=None,
            min_border_left=620, min_border_right=21, min_border_top=0, min_border_bottom=0)
cb.axis.visible = False
cb.xgrid.visible = False
cb.ygrid.visible = False
cb.outline_line_color = None
cb.background_fill_color = None
cb.border_fill_color = None
idx = list(range(len(depth_labels)))
cb.quad(left=idx, right=[i + 1 for i in idx], top=[5] * len(idx), bottom=[23] * len(idx),
        fill_color=line_colors, line_color=None)
cb.quad(left=[0], right=[len(idx)], top=[5], bottom=[23], fill_color=None,
        line_color="black", line_width=3.5)
cb.segment(x0=idx + [len(idx)], y0=[23] * (len(idx) + 1), x1=idx + [len(idx)], y1=[28] * (len(idx) + 1),
           line_color="black", line_width=1.5)
cb.text(x=[i + 0.37 for i in idx], y=[45] * len(idx), text=depth_labels,
        text_font=value("Liberation Serif"), text_font_size=value("19px"),
        text_align="center", text_baseline="middle", text_color="black")

rows = []
for r in range(4):
    rw = row(figs[(r, 0)], figs[(r, 1)])
    if ROW_OVERLAP[r]:
        rw.margin = (-ROW_OVERLAP[r], 0, 0, 0)
    rows.append(rw)
cb.margin = (-15, 0, 0, 0)

layout = column(*rows, cb)

open("out.html", "w").write(file_html(layout, INLINE))
